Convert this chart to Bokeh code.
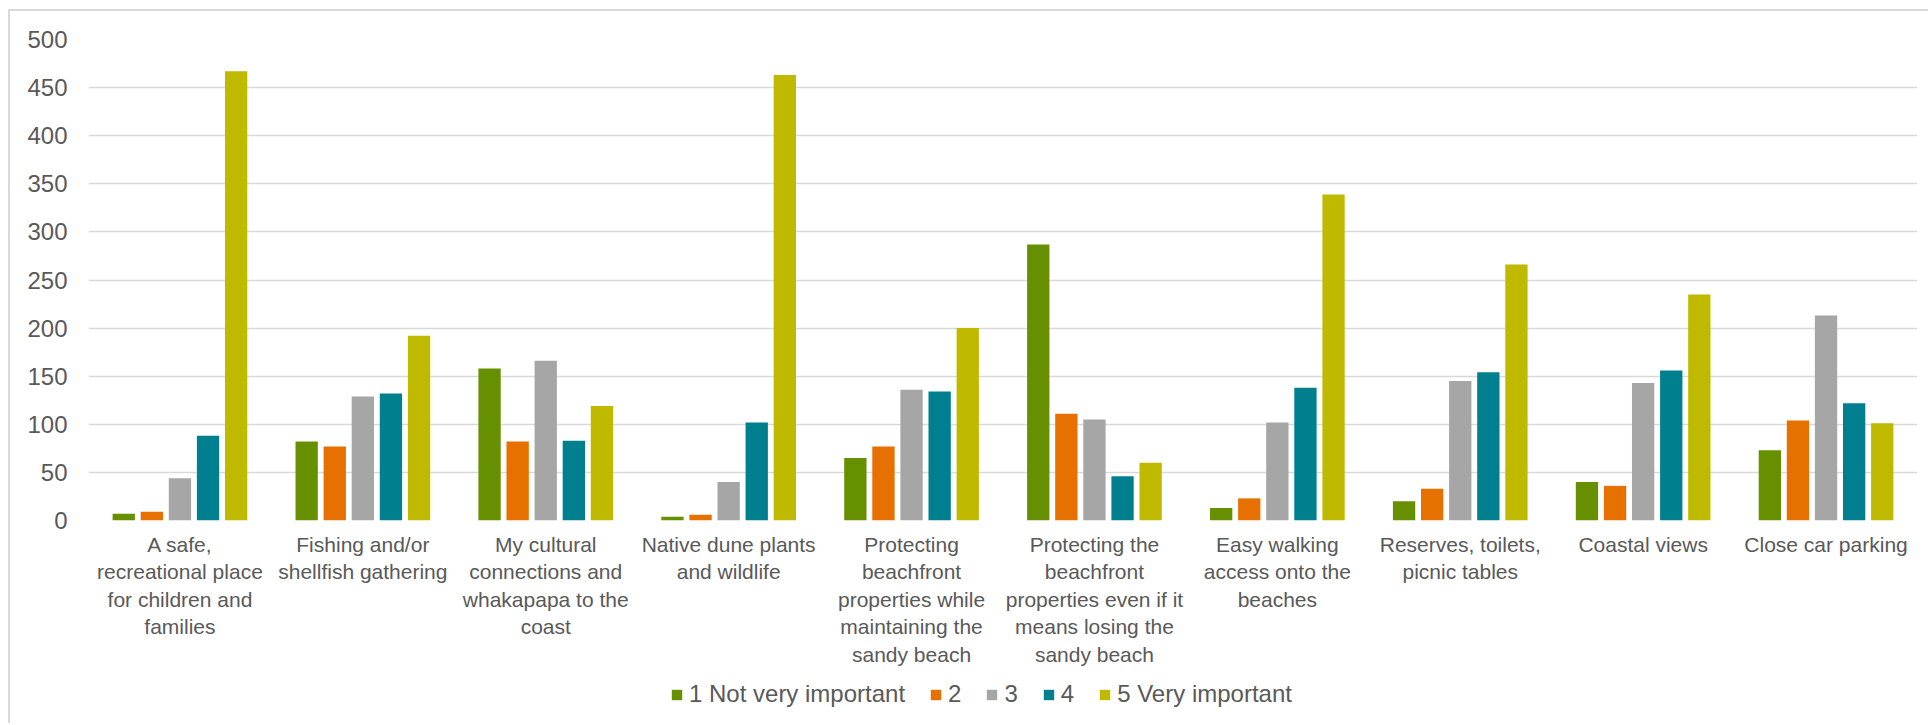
from bokeh.plotting import figure
from bokeh.layouts import column
from bokeh.models import ColumnDataSource, FactorRange, Legend, LegendItem, SingleIntervalTicker
from bokeh.transform import dodge
from bokeh.embed import file_html
from bokeh.resources import INLINE

categories = [
    "A safe,\nrecreational place\nfor children and\nfamilies",
    "Fishing and/or\nshellfish gathering",
    "My cultural\nconnections and\nwhakapapa to the\ncoast",
    "Native dune plants\nand wildlife",
    "Protecting\nbeachfront\nproperties while\nmaintaining the\nsandy beach",
    "Protecting the\nbeachfront\nproperties even if it\nmeans losing the\nsandy beach",
    "Easy walking\naccess onto the\nbeaches",
    "Reserves, toilets,\npicnic tables",
    "Coastal views",
    "Close car parking",
]
series_names = ["1 Not very important", "2", "3", "4", "5 Very important"]
s1 = [7, 82, 158, 4, 65, 287, 13, 20, 40, 73]
s2 = [9, 77, 82, 6, 77, 111, 23, 33, 36, 104]
s3 = [44, 129, 166, 40, 136, 105, 102, 145, 143, 213]
s4 = [88, 132, 83, 102, 134, 46, 138, 154, 156, 122]
s5 = [467, 192, 119, 463, 200, 60, 339, 266, 235, 101]
colors = ["#679000", "#E67000", "#A6A6A6", "#00808F", "#BFBA00"]

FONT = "Liberation Sans, Arial, sans-serif"
TXT = "#595959"

source = ColumnDataSource(data=dict(cat=categories, s1=s1, s2=s2, s3=s3, s4=s4, s5=s5))

# main chart
p = figure(x_range=FactorRange(*categories), y_range=(0, 500),
           width=1918, height=659, output_backend="svg", toolbar_location=None,
           min_border_left=78, min_border_right=11, min_border_top=28, min_border_bottom=150)
p.outline_line_color = None
p.background_fill_color = "white"
p.border_fill_color = "white"

pitch = 0.1536
for i, (key, col) in enumerate(zip(["s1", "s2", "s3", "s4", "s5"], colors)):
    p.vbar(x=dodge("cat", (i - 2) * pitch, range=p.x_range), top=key, width=0.122,
           source=source, fill_color=col, line_color=None)

p.xgrid.grid_line_color = None
p.ygrid.grid_line_color = "#d9d9d9"
p.ygrid.grid_line_width = 1.5
p.yaxis.ticker = SingleIntervalTicker(interval=50)

for ax in (p.xaxis[0], p.yaxis[0]):
    ax.axis_line_color = None
    ax.major_tick_line_color = None
    ax.minor_tick_line_color = None
    ax.major_label_text_color = TXT
    ax.major_label_text_font = FONT
p.yaxis.major_label_text_font_size = "24px"
p.yaxis.major_label_standoff = 15
p.xaxis.major_label_text_font_size = "21px"
p.xaxis.major_label_standoff = 6
p.x_range.range_padding = 0
p.x_range.group_padding = 0

# legend strip (frame aligned with the main chart's frame by the column layout)
q = figure(width=1918, height=53, output_backend="svg", toolbar_location=None,
           x_axis_location=None, y_axis_location=None, min_border=0,
           x_range=(0, 1), y_range=(0, 1))
q.outline_line_color = None
q.grid.grid_line_color = None
q.border_fill_color = "white"
q.background_fill_color = "white"
legend_renderers = [q.vbar(x=[0.5], top=[0], bottom=[0], width=0.01, fill_color=c, line_color=None)
                    for c in colors]
legend = Legend(items=[LegendItem(label=n, renderers=[r]) for n, r in zip(series_names, legend_renderers)],
                orientation="horizontal", location=(582, 15),
                padding=0, margin=0, border_line_color=None, background_fill_alpha=0,
                label_text_font_size="24px", label_text_font=FONT, label_text_color=TXT,
                glyph_width=13, glyph_height=13, label_standoff=6, spacing=24, label_width=8)
q.add_layout(legend)

layout = column(p, q, spacing=0)
layout.styles = {"border-left": "2px solid #d9d9d9", "border-top": "2px solid #d9d9d9",
                 "margin-left": "8px", "margin-top": "9px"}

open("out.html", "w").write(file_html(layout, INLINE))
